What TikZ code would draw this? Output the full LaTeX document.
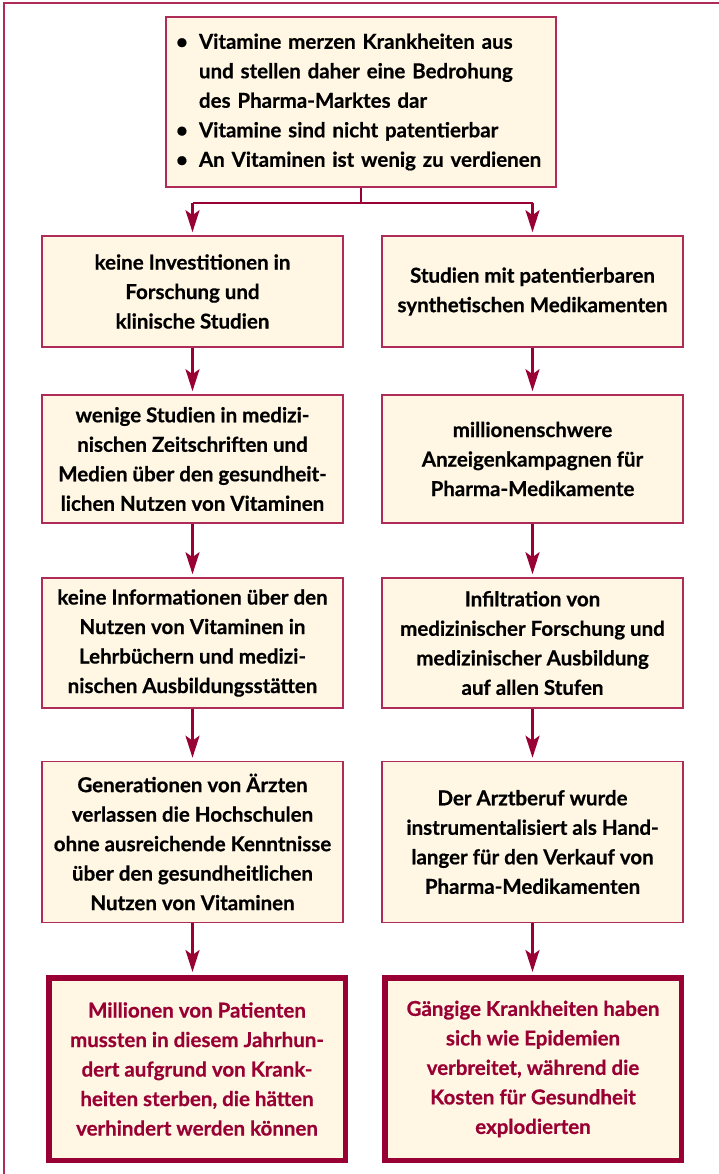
\documentclass[tikz,border=0pt]{standalone}
\usepackage{fontspec}
\setmainfont{Lato}[BoldFeatures={FakeBold=0.6}]
\usetikzlibrary{arrows.meta}
\definecolor{crim}{HTML}{990033}
\definecolor{crimframe}{HTML}{B02C58}
\definecolor{cream}{HTML}{FFF7E4}
\newcommand{\bul}{\makebox[23pt][l]{\textbullet}}
\tikzset{
  txt/.style={font=\fontsize{20.5}{29.5}\selectfont\bfseries},
  box/.style={draw=crimframe, line width=1.6pt, fill=cream, inner sep=0pt, align=center, txt},
  endbox/.style={draw=crim, line width=5.5pt, fill=cream, inner sep=0pt, align=center, txt, text=crim},
  arr/.style={draw=crim, line width=2.6pt, -{Stealth[length=22pt,width=14pt,inset=5pt]}, shorten >=3pt},
}
\begin{document}
\begin{tikzpicture}[x=1pt,y=-1pt]
\useasboundingbox (0,0) rectangle (719,1174);
% outer frame (only top and left visible)
\draw[crimframe, line width=2pt] (3.5,1174) -- (3.5,3.5) -- (719,3.5);
% top box
\node[box, minimum width=390pt, minimum height=170pt, text width=370pt, inner xsep=10pt, align=left] (top) at (361,102) {%
\bul Vitamine merzen Krankheiten aus\\
\hspace*{23pt}und stellen daher eine Bedrohung\\
\hspace*{23pt}des Pharma-Marktes dar\\
\bul Vitamine sind nicht patentierbar\\
\bul An Vitaminen ist wenig zu verdienen};
% left column
\node[box, minimum width=301pt, minimum height=111pt] (l1) at (192.5,291.5) {keine Investitionen in\\Forschung und\\klinische Studien};
\node[box, minimum width=301pt, minimum height=128pt] (l2) at (192.5,459) {wenige Studien in medizi-\\nischen Zeitschriften und\\Medien über den gesundheit-\\lichen Nutzen von Vitaminen};
\node[box, minimum width=301pt, minimum height=130pt] (l3) at (192.5,643) {keine Informationen über den\\Nutzen von Vitaminen in\\Lehrbüchern und medizi-\\nischen Ausbildungsstätten};
\node[box, minimum width=301pt, minimum height=161pt] (l4) at (192.5,842) {Generationen von Ärzten\\verlassen die Hochschulen\\ohne ausreichende Kenntnisse\\über den gesundheitlichen\\Nutzen von Vitaminen};
\node[endbox, minimum width=296.5pt, minimum height=182.5pt] (l5) at (197,1069) {Millionen von Patienten\\mussten in diesem Jahrhun-\\dert aufgrund von Krank-\\heiten sterben, die hätten\\verhindert werden können};
% right column
\node[box, minimum width=301pt, minimum height=111pt] (r1) at (532.5,291.5) {Studien mit patentierbaren\\synthetischen Medikamenten};
\node[box, minimum width=301pt, minimum height=128pt] (r2) at (532.5,459) {millionenschwere\\Anzeigenkampagnen für\\Pharma-Medikamente};
\node[box, minimum width=301pt, minimum height=130pt] (r3) at (532.5,643) {Infiltration von\\medizinischer Forschung und\\medizinischer Ausbildung\\auf allen Stufen};
\node[box, minimum width=301pt, minimum height=161pt] (r4) at (532.5,842) {Der Arztberuf wurde\\instrumentalisiert als Hand-\\langer für den Verkauf von\\Pharma-Medikamenten};
\node[endbox, minimum width=296.5pt, minimum height=182.5pt] (r5) at (533,1069) {Gängige Krankheiten haben\\sich wie Epidemien\\verbreitet, während die\\Kosten für Gesundheit\\explodierten};
% split connector
\coordinate (split) at (top.south |- 0,203);
\draw[crim, line width=2.6pt] (top.south) -- (split);
\draw[crim, line width=2.6pt] (l1.north |- split) -- (r1.north |- split);
\draw[arr] (l1.north |- split) -- (l1.north);
\draw[arr] (r1.north |- split) -- (r1.north);
% column arrows
\draw[arr] (l1) -- (l2);
\draw[arr] (l2) -- (l3);
\draw[arr] (l3) -- (l4);
\draw[arr] (l4.south) -- (l4.south |- l5.north);
\draw[arr] (r1) -- (r2);
\draw[arr] (r2) -- (r3);
\draw[arr] (r3) -- (r4);
\draw[arr] (r4.south) -- (r4.south |- r5.north);
\end{tikzpicture}
\end{document}
